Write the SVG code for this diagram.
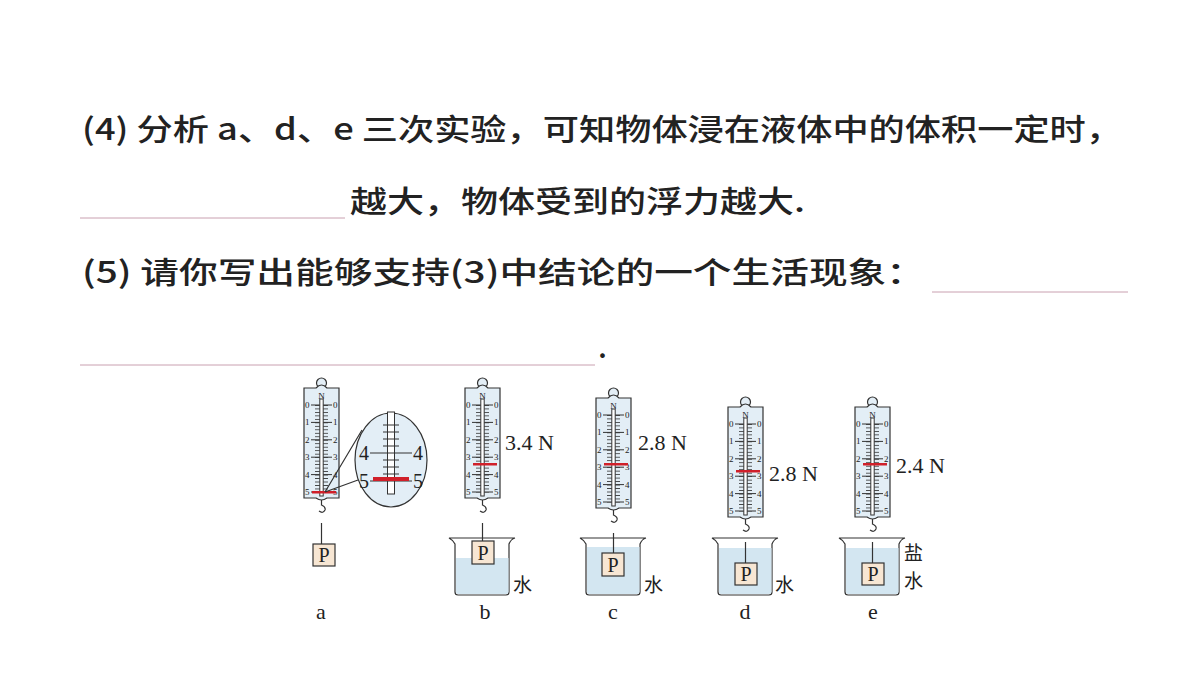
<svg xmlns="http://www.w3.org/2000/svg" width="1200" height="675" viewBox="0 0 1200 675">
<style>
.t{font-family:"Liberation Serif","Noto Sans CJK SC",serif;fill:#222}
.h{font-family:"Noto Sans CJK SC","Noto Sans",sans-serif;fill:#222;font-size:30px;font-weight:500}
.s{font-family:"Liberation Serif",serif;font-size:9px;fill:#222}
.ln{stroke:#333;stroke-width:1.2;fill:none}
.ul{stroke:#c9a0b0;stroke-width:1}
.box{fill:#f7e6d3;stroke:#333;stroke-width:1.2}
.wat{fill:#d3e6f1}
.lb{font-family:"Noto Sans CJK SC",sans-serif;fill:#222;font-size:19px}
</style>
<defs>
<pattern id="mt" width="40" height="3.48" patternUnits="userSpaceOnUse" y="17">
<rect x="0" y="0" width="40" height="0.8" fill="#333"/>
</pattern>
<g id="scale">
<circle cx="17.5" cy="-5" r="5" fill="#e3eef6" stroke="#333" stroke-width="1.2"/>
<path d="M0,0 H12 Q17.5,-6 23,0 H35 V110 H23 Q17.5,114 12,110 H0 Z" fill="#e3eef6" stroke="#333" stroke-width="1.2"/>
<rect x="11" y="17" width="13" height="87.5" fill="url(#mt)"/>
<path d="M7,17h21M7,34.4h21M7,51.8h21M7,69.2h21M7,86.6h21M7,104h21" stroke="#333" stroke-width="1"/>
<rect x="15.8" y="11" width="3.4" height="97" fill="#fff" stroke="#333" stroke-width="1"/>
<text class="s" x="17.5" y="11" text-anchor="middle">N</text>
<g class="s"><text x="1" y="20">0</text><text x="1" y="37.4">1</text><text x="1" y="54.8">2</text><text x="1" y="72.2">3</text><text x="1" y="89.6">4</text><text x="1" y="107">5</text>
<text x="29" y="20">0</text><text x="29" y="37.4">1</text><text x="29" y="54.8">2</text><text x="29" y="72.2">3</text><text x="29" y="89.6">4</text><text x="29" y="107">5</text></g>
<path class="ln" d="M17.5,112 V117 Q22,119 21,122 Q19,126 15,123"/>
</g>
<g id="beaker">
<path d="M-4,0 Q0,2 2,6 V54 Q2,57 5,57 H53 Q56,57 56,54 V6 Q58,1 62,0 Z" fill="#fff" stroke="#333" stroke-width="1.2"/>
</g>
</defs>

<g id="text">
<text class="h" x="82" y="140" textLength="1040" lengthAdjust="spacingAndGlyphs">(4) 分析 a、d、e 三次实验，可知物体浸在液体中的体积一定时，</text>
<line class="ul" x1="80" y1="218" x2="345" y2="218"/>
<text class="h" x="350" y="212" textLength="455" lengthAdjust="spacingAndGlyphs">越大，物体受到的浮力越大.</text>
<text class="h" x="82" y="283" textLength="843" lengthAdjust="spacingAndGlyphs">(5) 请你写出能够支持(3)中结论的一个生活现象：</text>
<line class="ul" x1="932" y1="292" x2="1128" y2="292"/>
<line class="ul" x1="80" y1="365" x2="595" y2="365"/>
<text class="h" x="598" y="358">.</text>
</g>

<g id="a">
<use href="#scale" x="304" y="388"/>
<rect x="312" y="491" width="24" height="2.5" fill="#d0202a"/>
<path class="ln" d="M325,492 L362,430 M325,492 L358,480"/>
<ellipse cx="391" cy="460" rx="36" ry="47" fill="#e3eef6" stroke="#333" stroke-width="1.2"/>
<rect x="387.5" y="412" width="7" height="82" fill="#fff" stroke="#333"/>
<path d="M383,425h16M383,432h16M383,439h16M383,446h16M383,460h16M383,467h16M383,474h16M370,453h42M370,481h42" stroke="#333" stroke-width="1"/>
<rect x="373" y="477" width="36" height="4" fill="#d0202a"/>
<text class="t" x="359" y="460" font-size="20">4</text><text class="t" x="413" y="460" font-size="20">4</text>
<text class="t" x="359" y="488" font-size="20">5</text><text class="t" x="413" y="488" font-size="20">5</text>
<line class="ln" x1="321.5" y1="523" x2="321.5" y2="544"/>
<rect class="box" x="313" y="544" width="22" height="22"/>
<text class="t" x="324" y="562" font-size="20" text-anchor="middle">P</text>
<text class="t" x="321" y="619" font-size="22" text-anchor="middle">a</text>
</g>

<g id="b">
<use href="#scale" x="465" y="388"/>
<rect x="473" y="463" width="24" height="2.5" fill="#d0202a"/>
<text class="t" x="505" y="450" font-size="22">3.4 N</text>
<use href="#beaker" x="453" y="538"/>
<path class="wat" d="M456,558 H508.5 V592 Q508.5,594 506,594 H458 Q456,594 456,592 Z"/>
<line class="ln" x1="482.5" y1="523" x2="482.5" y2="541"/>
<rect class="box" x="472" y="541" width="22" height="23"/>
<text class="t" x="483" y="560" font-size="20" text-anchor="middle">P</text>
<text class="lb" x="513" y="592">水</text>
<text class="t" x="485" y="619" font-size="22" text-anchor="middle">b</text>
</g>

<g id="c">
<use href="#scale" x="596" y="398"/>
<rect x="604" y="463" width="24" height="2.5" fill="#d0202a"/>
<text class="t" x="638" y="450" font-size="22">2.8 N</text>
<use href="#beaker" x="584" y="538"/>
<path class="wat" d="M587,547 H639.5 V592 Q639.5,594 637,594 H589 Q587,594 587,592 Z"/>
<line class="ln" x1="613.5" y1="533" x2="613.5" y2="553"/>
<rect class="box" x="602" y="553" width="22" height="23"/>
<text class="t" x="613" y="572" font-size="20" text-anchor="middle">P</text>
<text class="lb" x="644" y="592">水</text>
<text class="t" x="613" y="619" font-size="22" text-anchor="middle">c</text>
</g>

<g id="d">
<use href="#scale" x="728" y="407"/>
<rect x="736" y="470" width="24" height="2.5" fill="#d0202a"/>
<text class="t" x="769" y="481" font-size="22">2.8 N</text>
<use href="#beaker" x="716" y="538"/>
<path class="wat" d="M719,548 H771.5 V592 Q771.5,594 769,594 H721 Q719,594 719,592 Z"/>
<line class="ln" x1="745.5" y1="542" x2="745.5" y2="563"/>
<rect class="box" x="735" y="563" width="22" height="22"/>
<text class="t" x="746" y="581" font-size="20" text-anchor="middle">P</text>
<text class="lb" x="775" y="592">水</text>
<text class="t" x="745" y="619" font-size="22" text-anchor="middle">d</text>
</g>

<g id="e">
<use href="#scale" x="855" y="407"/>
<rect x="863" y="463" width="24" height="2.5" fill="#d0202a"/>
<text class="t" x="896" y="473" font-size="22">2.4 N</text>
<use href="#beaker" x="843" y="538"/>
<path class="wat" d="M846,548 H898.5 V592 Q898.5,594 896,594 H848 Q846,594 846,592 Z"/>
<line class="ln" x1="872.5" y1="542" x2="872.5" y2="563"/>
<rect class="box" x="862" y="563" width="22" height="22"/>
<text class="t" x="873" y="581" font-size="20" text-anchor="middle">P</text>
<text class="lb" x="904" y="560">盐</text>
<text class="lb" x="904" y="588">水</text>
<text class="t" x="873" y="619" font-size="22" text-anchor="middle">e</text>
</g>
</svg>
